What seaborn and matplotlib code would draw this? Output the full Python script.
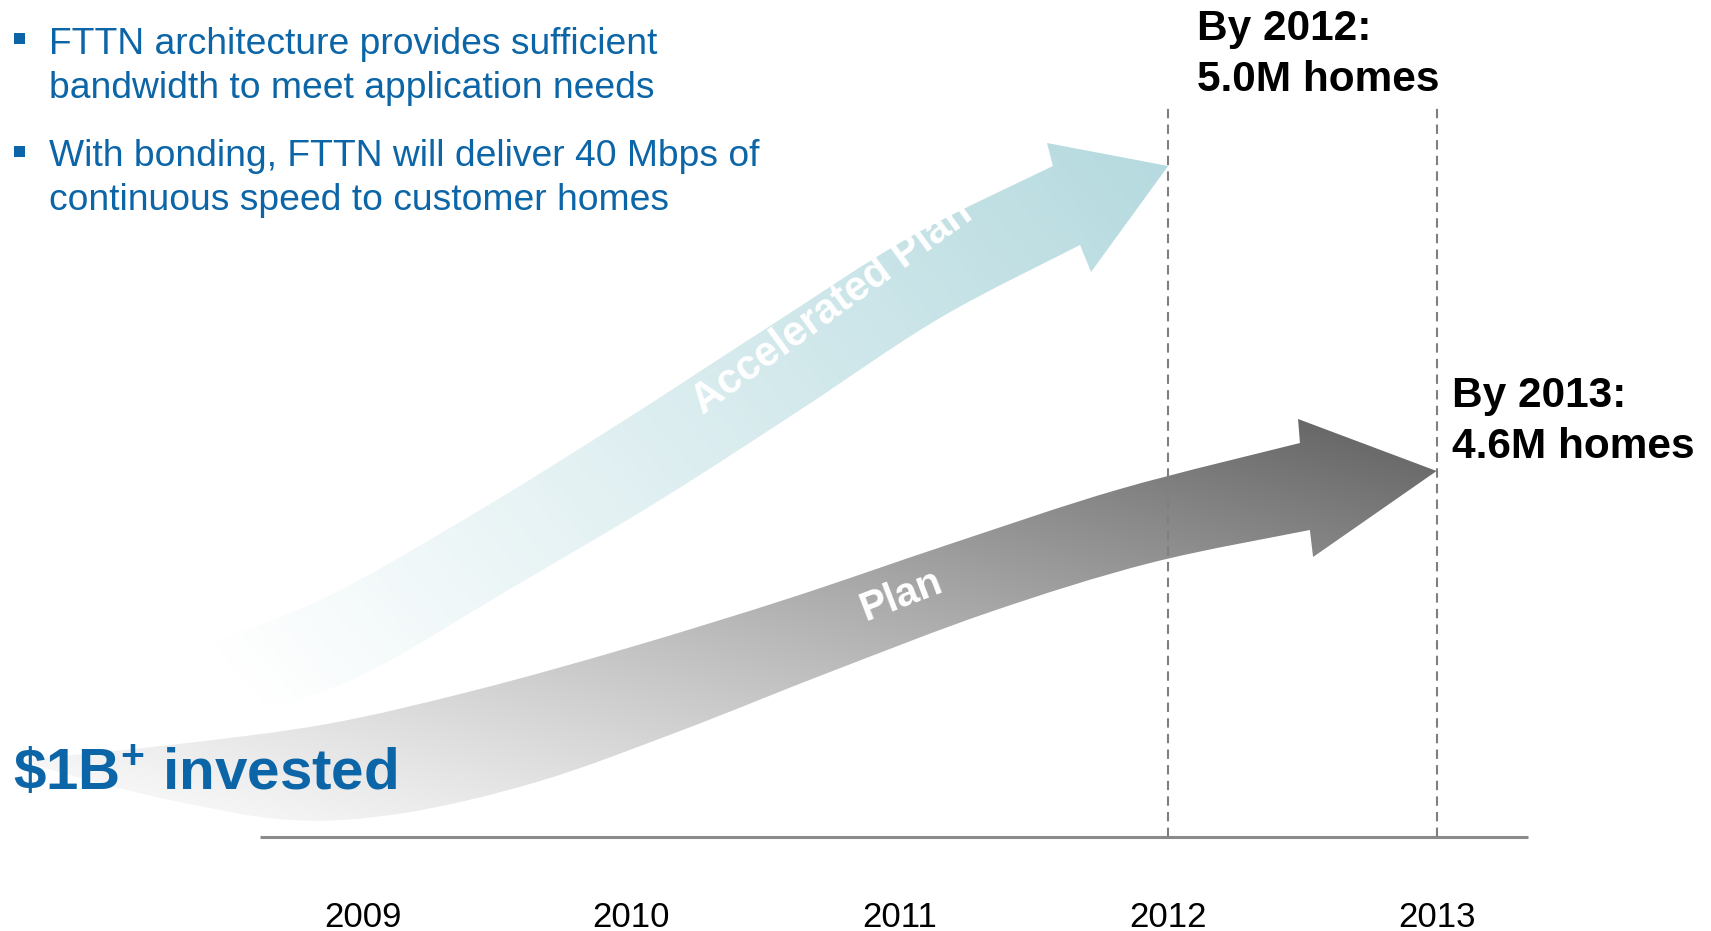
import numpy as np
import pandas as pd
import matplotlib
matplotlib.use("Agg")
import matplotlib.pyplot as plt
import matplotlib.colors as mcolors
from matplotlib.path import Path
from matplotlib.patches import Rectangle
import seaborn as sns

# ---------------------------------------------------------------- data
years = [2009, 2010, 2011, 2012, 2013]
plan_names = ["Accelerated Plan", "Plan"]
target_years = [2012, 2013]
target_homes_m = [5.0, 4.6]
tip_levels = [6.71, 3.66]
bullet_lines = [
    ["FTTN architecture provides sufficient", "bandwidth to meet application needs"],
    ["With bonding, FTTN will deliver 40 Mbps of", "continuous speed to customer homes"],
]
invested_label = r"\$1B$^{+}$ invested"

# Arrow outlines in (year, level) units: upper edge, head barbs, lower edge
accel_upper = [(2008.290, 1.80), (2008.841, 2.37), (2009.400, 3.21), (2009.959, 4.14),
               (2010.517, 5.11), (2011.039, 6.00), (2011.571, 6.71)]
accel_barbs = [(2011.549, 6.94), (2011.713, 5.65)]
accel_lower = [(2011.672, 5.92), (2011.150, 5.19), (2010.629, 4.27), (2010.108, 3.37),
               (2009.549, 2.48), (2008.990, 1.61), (2008.581, 1.25), (2008.394, 1.23),
               (2008.290, 1.47), (2008.290, 1.80)]

plan_upper = [(2007.724, 0.77), (2008.283, 0.92), (2008.867, 1.13), (2009.422, 1.47),
              (2010.000, 1.90), (2010.592, 2.39), (2011.188, 2.93), (2011.821, 3.48),
              (2012.491, 3.94)]
plan_barbs = [(2012.484, 4.18), (2012.540, 2.80)]
plan_lower = [(2012.528, 3.07), (2011.933, 2.74), (2011.337, 2.25), (2010.741, 1.65),
              (2010.182, 1.06), (2009.661, 0.56), (2009.154, 0.24), (2008.730, 0.17),
              (2008.283, 0.37), (2007.910, 0.62), (2007.724, 0.77)]

# ---------------------------------------------------------------- style
sns.set_theme(style="white")
plt.rcParams["font.family"] = ["Liberation Sans", "DejaVu Sans"]
plt.rcParams["mathtext.fontset"] = "custom"
plt.rcParams["mathtext.rm"] = "Liberation Sans:bold"
plt.rcParams["mathtext.bf"] = "Liberation Sans:bold"
plt.rcParams["mathtext.default"] = "rm"

BLUE = "#0B65A7"
GREY_LINE = "#8a8a8a"
DASH_GREY = "#7f7f7f"
TEAL = "#b3d9de"
DARK_GREY = "#666666"

W, H = 1711, 931
fig = plt.figure(figsize=(W / 100, H / 100), dpi=100)
fig.patch.set_facecolor("white")
ax = fig.add_axes([0, 0, 1, 1])

# linear scales: pixels per year / per level unit
PX_PER_YEAR = 268.5
REF_YEAR, REF_PX = 2011, 899.6
BASE_PY = 837
PX_PER_LEVEL = 100.0
x0 = REF_YEAR - REF_PX / PX_PER_YEAR
x1 = REF_YEAR + (W - REF_PX) / PX_PER_YEAR
y0 = (BASE_PY - H) / PX_PER_LEVEL
y1 = BASE_PY / PX_PER_LEVEL


def px_year(px):
    return REF_YEAR + (px - REF_PX) / PX_PER_YEAR


def ftext(px, py, s, **kw):
    return fig.text(px / W, 1 - py / H, s, **kw)


def band_path(upper, barbs, tip, lower):
    """Closed arrow outline: smooth edges joined by a straight-sided head."""
    verts, codes = [], []

    def add_smooth(pts):
        P = np.asarray(pts, float)
        n = len(P)
        for i in range(n - 1):
            p0 = P[max(i - 1, 0)]
            p1 = P[i]
            p2 = P[i + 1]
            p3 = P[min(i + 2, n - 1)]
            verts.extend([p1 + (p2 - p0) / 6.0, p2 - (p3 - p1) / 6.0, p2])
            codes.extend([Path.CURVE4] * 3)

    verts.append(upper[0]); codes.append(Path.MOVETO)
    add_smooth(upper)
    for p in (barbs[0], tip, barbs[1], lower[0]):
        verts.append(p); codes.append(Path.LINETO)
    add_smooth(lower)
    verts.append(upper[0]); codes.append(Path.CLOSEPOLY)
    return Path(np.asarray(verts, float), codes)


gx, gy = np.meshgrid(np.arange(W) + 0.5, np.arange(H) + 0.5)


def gradient_rgb(color, angle_deg, s_white, s_full, gamma=1.0):
    a = np.radians(angle_deg)
    s = np.cos(a) * gx - np.sin(a) * gy
    t = np.clip((s - s_white) / (s_full - s_white), 0, 1) ** gamma
    c = np.array(mcolors.to_rgb(color))
    return (1 - t[..., None]) + t[..., None] * c


shapes = [
    (accel_upper, accel_barbs, accel_lower, TEAL, 40, -250, 820, 1.0),
    (plan_upper, plan_barbs, plan_lower, DARK_GREY, 75, -800, -60, 1.2),
]
for z, (yr, lvl, (up, barbs, low, col, ang, sw, sf, gam)) in enumerate(
        zip(target_years, tip_levels, shapes)):
    path = band_path(up, barbs, (yr, lvl), low)
    im = ax.imshow(gradient_rgb(col, ang, sw, sf, gam), extent=(x0, x1, y0, y1),
                   origin="upper", aspect="auto", interpolation="bilinear", zorder=1 + z)
    im.set_clip_path(path, transform=ax.transData)

# baseline (time axis)
ax.plot([px_year(260), px_year(1528)], [0, 0], color=GREY_LINE, lw=2.2,
        solid_capstyle="butt", zorder=3)

# dashed target-year markers
top_level = 7.32
targets = pd.DataFrame({
    "year": np.repeat(target_years, 2),
    "level": [0.0, top_level] * len(target_years),
    "plan": np.repeat(plan_names, 2),
})
n_before = len(ax.lines)
sns.lineplot(data=targets, x="year", y="level", units="plan", estimator=None,
             sort=False, color=DASH_GREY, linewidth=1.5, ax=ax, legend=False, zorder=4)
for ln in ax.lines[n_before:]:
    ln.set_dashes([4.5, 3])

ax.set_xlim(x0, x1)
ax.set_ylim(y0, y1)
ax.set_axis_off()

# year labels
for yr in years:
    ax.text(yr, -0.90, str(yr), fontsize=25, ha="center", va="baseline", color="black")

# target annotations
label_anchor_px = [(1197, 40), (1452, 407)]
for yr, homes, (lx, ly) in zip(target_years, target_homes_m, label_anchor_px):
    ftext(lx, ly, f"By {yr}:", fontsize=30.5, fontweight="bold", color="black", va="baseline")
    ftext(lx, ly + 51, f"{homes:.1f}M homes", fontsize=30.5, fontweight="bold",
          color="black", va="baseline")

# arrow captions
ftext(703, 415, plan_names[0], fontsize=30, fontweight="bold", color="white",
      rotation=36, rotation_mode="anchor", ha="left", va="baseline", zorder=5)
ftext(865, 621, plan_names[1], fontsize=29, fontweight="bold", color="white",
      rotation=21, rotation_mode="anchor", ha="left", va="baseline", zorder=5)

# bullet points
baselines = [[53.5, 97.5], [166, 210]]
for lines, bls in zip(bullet_lines, baselines):
    fig.add_artist(Rectangle((14 / W, 1 - (bls[0] - 9.5) / H), 11 / W, 11 / H,
                             transform=fig.transFigure, color=BLUE, lw=0))
    for line, bl in zip(lines, bls):
        ftext(49, bl, line, fontsize=26.8, color=BLUE, va="baseline")

# investment callout
ftext(13, 790, invested_label, fontsize=42, fontweight="bold", color=BLUE,
      va="baseline", zorder=6)

fig.savefig("out.png", dpi=100, facecolor="white")
